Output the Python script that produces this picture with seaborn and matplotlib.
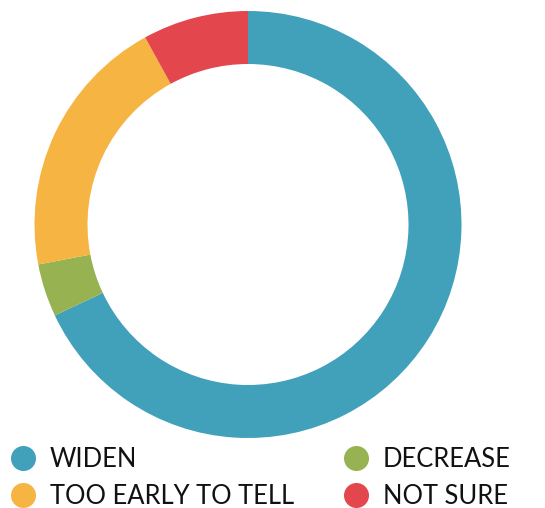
import matplotlib
matplotlib.use("Agg")
import matplotlib.pyplot as plt
from matplotlib.lines import Line2D
import seaborn as sns

labels = ["WIDEN", "DECREASE", "TOO EARLY TO TELL", "NOT SURE"]
values = [68, 4, 20, 8]
colors = ["#41A0BA", "#97B250", "#F6B443", "#E3464D"]

sns.set_theme(style="white")
plt.rcParams['font.family'] = ['Lato', 'DejaVu Sans']

W, H = 545, 508
fig = plt.figure(figsize=(W / 100, H / 100), dpi=100)
cx, cy, r = 248, 224.5, 213.5
ax = fig.add_axes([(cx - r) / W, (H - cy - r) / H, 2 * r / W, 2 * r / H])
ax.pie(values, colors=colors, startangle=90, counterclock=False, radius=1,
       wedgeprops=dict(width=53 / r, linewidth=0))
ax.set_xlim(-1, 1)
ax.set_ylim(-1, 1)
ax.set_aspect('equal')
ax.axis('off')

order = [0, 2, 1, 3]
handles = [Line2D([], [], marker='o', linestyle='none', markersize=18,
                  markerfacecolor=colors[i], markeredgewidth=0) for i in order]
leg = fig.legend(handles, [labels[i] for i in order], ncol=2,
                 loc='upper left', bbox_to_anchor=(5 / W, 1 - 442 / H),
                 frameon=False, fontsize=18.4, handlelength=1.0,
                 handletextpad=0.55, columnspacing=1.93, labelspacing=0.45,
                 borderaxespad=0, borderpad=0.2)
for t in leg.get_texts():
    t.set_color('#111111')

fig.savefig("out.png", dpi=100)
